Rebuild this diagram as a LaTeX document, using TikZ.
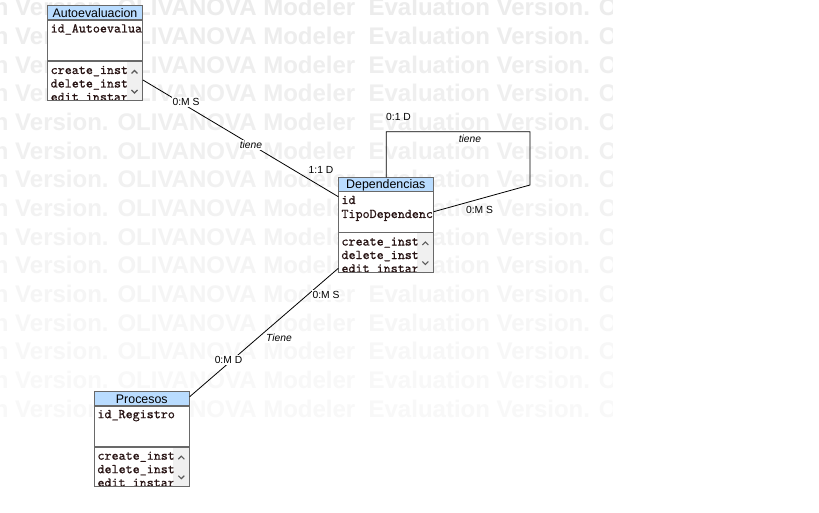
\documentclass[tikz,border=0pt]{standalone}
\usepackage{fontspec}
\setmainfont{Liberation Sans}
\newfontfamily\monof[FakeBold=0.6]{lmmono10-regular.otf}
\usetikzlibrary{calc}
\definecolor{hdr}{RGB}{185,220,255}
\definecolor{bord}{RGB}{105,105,105}
\definecolor{sbar}{RGB}{240,240,240}
\definecolor{chev}{RGB}{90,90,90}
\definecolor{mtext}{RGB}{40,20,20}
\tikzset{
  cbox/.style={anchor=north west, minimum width=95pt, minimum height=95pt, inner sep=0pt, fill=white},
  ttl/.style={anchor=base, inner sep=0pt, font=\fontsize{12.4}{14}\selectfont},
  attr/.style={anchor=base west, inner sep=0pt, text=mtext, font=\fontsize{13.4}{14}\monof},
  sepst/.style={draw=bord, line width=1.6pt},
  bordst/.style={draw=bord, line width=1pt},
  chevst/.style={draw=chev, line width=1.1pt},
  conn/.style={draw=black, line width=0.8pt},
  lbl/.style={inner sep=1pt, fill=white, font=\fontsize{10.3}{12}\selectfont},
  lbln/.style={inner sep=0.5pt, font=\fontsize{10.3}{12}\selectfont},
  wm/.style={anchor=base west, inner sep=0pt, font=\fontsize{24}{28}\selectfont\bfseries}
}
\newcommand\olvbox[5]{%
\begin{scope}[shift={(#2,-#3)}]
  \node[cbox] (#1) at (0,0) {};
  \fill[hdr] (0,0) rectangle (95,-14);
  \fill[sbar] (79,-55) rectangle (95,-95);
  \node[ttl] (#1-t) at (47.5,-11.3) {#4};
  \begin{scope}
    \clip (0,-14) rectangle (95,-55);
    \foreach \t [count=\i] in {#5} \node[attr] (#1-a\i) at (3,{-26.5-14*(\i-1)}) {\t};
  \end{scope}
  \begin{scope}
    \clip (0,-55) rectangle (79,-95);
    \foreach \t [count=\i] in {create\_inst,delete\_inst,edit\_instar}
      \node[attr] (#1-m\i) at (3,{-68-13.5*(\i-1)}) {\t};
  \end{scope}
  \draw[chevst] (84,-67.5) -- (87,-64.5) -- (90,-67.5);
  \draw[chevst] (84,-84) -- (87,-87) -- (90,-84);
  \draw[sepst] (0,-14) -- (95,-14);
  \draw[sepst] (0,-55) -- (95,-55);
  \draw[bordst] (0,0) rectangle (95,-95);
\end{scope}}
\begin{document}
\begin{tikzpicture}[x=1pt,y=1pt]
\useasboundingbox (0,0) rectangle (819,-513);
\fill[white] (0,0) rectangle (819,-513);
% watermark
\begin{scope}
  \clip (0,0) rectangle (612,-422);
  \foreach \k in {0,...,14} {
    \pgfmathsetmacro\p{7.5-0.35*\k}
    \node[wm, text=black!\p] (wm\k) at (-113,{-16-28.65*\k}) {Evaluation Version. OLIVANOVA Modeler\ \ Evaluation Version. OLIVANOVA};
  }
\end{scope}
\olvbox{auto}{47.5}{6}{Autoevaluacion}{id\_Autoevalua}
\olvbox{dep}{338.3}{177.5}{Dependencias}{id,TipoDependenc}
\olvbox{proc}{94.3}{391.7}{Procesos}{id\_Registro}
\coordinate (c2) at (530,-131.7);
\coordinate (c3) at (530,-185);
\draw[conn] ($(auto.north east)+(0,-74)$) -- ($(dep.north west)+(0,-19.2)$);
\draw[conn] ($(dep.north west)+(48,0)$) |- (c2) -- (c3) -- ($(dep.north east)+(0,-34.2)$);
\draw[conn] ($(dep.north west)+(0,-90.8)$) -- ($(proc.north east)+(0,-5)$);
% labels
\node[lbl] (l1) at (186,-102) {0:M S};
\node[lbl] (l2) at (251,-145) {\itshape tiene};
\node[lbln] (l3) at (321,-170) {1:1 D};
\node[lbln] (l4) at (398.5,-116.7) {0:1 D};
\node[lbln] (l5) at (470,-138.5) {\itshape tiene};
\node[lbln] (l6) at (479.5,-209.5) {0:M S};
\node[lbl] (l7) at (326,-295) {0:M S};
\node[lbl] (l8) at (279,-338) {\itshape Tiene};
\node[lbl] (l9) at (228.5,-360) {0:M D};
\end{tikzpicture}
\end{document}
